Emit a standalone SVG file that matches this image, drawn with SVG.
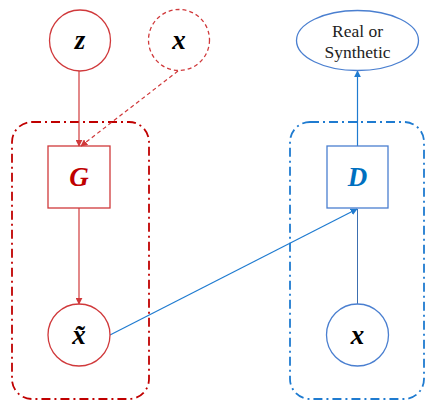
<svg xmlns="http://www.w3.org/2000/svg" width="427" height="401" viewBox="0 0 427 401">
<style>
.red{stroke:#D0393B;fill:none;stroke-width:1.3}
.blue{stroke:#4A7FD0;fill:none;stroke-width:1.3}
.redbox{stroke:#C00000;fill:none;stroke-width:1.8;stroke-dasharray:9 4 2 4}
.bluebox{stroke:#1F7BD0;fill:none;stroke-width:1.8;stroke-dasharray:9 4 2 4}
.var{font-family:"Liberation Serif",serif;font-weight:bold;font-style:italic;font-size:27px;text-anchor:middle}
.lbl{font-family:"Liberation Serif",serif;font-size:17.5px;text-anchor:middle;fill:#222}
</style>
<defs>
<marker id="ar" viewBox="0 0 10 10" refX="9" refY="5" markerWidth="7" markerHeight="7" orient="auto" markerUnits="userSpaceOnUse"><path d="M0,0 L10,5 L0,10 z" fill="#D0393B"/></marker>
<marker id="ab" viewBox="0 0 10 10" refX="9" refY="5" markerWidth="7" markerHeight="7" orient="auto" markerUnits="userSpaceOnUse"><path d="M0,0 L10,5 L0,10 z" fill="#1F7BD0"/></marker>
</defs>
<g id="gen-box"><rect class="redbox" x="12" y="122" width="137" height="277" rx="20"/></g>
<g id="disc-box"><rect class="bluebox" x="290" y="122" width="134" height="277" rx="20"/></g>
<g id="connectors">
<line x1="79" y1="71" x2="79" y2="146" stroke="#D0393B" stroke-width="1.2" marker-end="url(#ar)"/>
<line x1="178" y1="71" x2="81" y2="146" stroke="#D0393B" stroke-width="1.2" stroke-dasharray="4 3" marker-end="url(#ar)"/>
<line x1="79" y1="208" x2="79" y2="304" stroke="#D0393B" stroke-width="1.2" marker-end="url(#ar)"/>
<line x1="357.5" y1="146" x2="357.5" y2="71" stroke="#1F7BD0" stroke-width="1.2" marker-end="url(#ab)"/>
<line x1="357.5" y1="304" x2="357.5" y2="209" stroke="#3C6FB0" stroke-width="1"/>
<line x1="110" y1="335" x2="357" y2="209" stroke="#1F7BD0" stroke-width="1.2" marker-end="url(#ab)"/>
</g>
<g id="z"><circle class="red" cx="80" cy="40.5" r="30.5"/><text class="var" x="80" y="49">z</text></g>
<g id="x-in"><circle class="red" cx="179" cy="40" r="30.5" stroke-dasharray="4 3"/><text class="var" x="179" y="49">x</text></g>
<g id="out"><ellipse class="blue" cx="357.5" cy="40.5" rx="61" ry="30"/><text class="lbl" x="357.5" y="37">Real or</text><text class="lbl" x="357.5" y="58">Synthetic</text></g>
<g id="G"><rect class="red" x="48" y="146" width="62" height="62"/><text class="var" x="79" y="186" fill="#C00000">G</text></g>
<g id="D"><rect class="blue" x="327" y="146" width="61" height="62"/><text class="var" x="357.5" y="186" fill="#0070C0">D</text></g>
<g id="xt"><circle class="red" cx="79" cy="335" r="31"/><text class="var" x="79" y="344">x̃</text></g>
<g id="x-real"><circle class="blue" cx="357.5" cy="335" r="31"/><text class="var" x="357.5" y="344">x</text></g>
</svg>
